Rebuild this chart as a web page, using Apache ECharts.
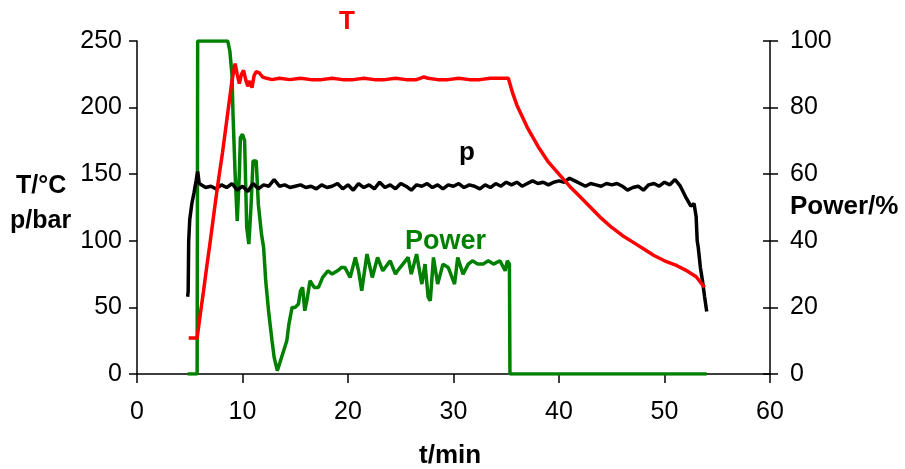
<!DOCTYPE html>
<html>
<head>
<meta charset="utf-8">
<script src="https://cdn.jsdelivr.net/npm/echarts@6/dist/echarts.min.js"></script>
<style>
html,body{margin:0;padding:0;background:#fff;}
#chart{width:905px;height:469px;}
</style>
</head>
<body>
<div id="chart"></div>
<script>
// x axis ticks
const xTicks = [0, 10, 20, 30, 40, 50, 60];
const leftTicks = [0, 50, 100, 150, 200, 250];
const rightTicks = [0, 20, 40, 60, 80, 100];

// T (°C) vs time (min)
const tTime = [4.9, 5.7, 6.0, 6.3, 6.6, 6.9, 7.2, 7.5, 7.8, 8.1, 8.4, 8.7, 9.0, 9.3, 9.5, 9.7, 9.9, 10.1, 10.3, 10.5, 10.7, 10.9, 11.1, 11.3, 11.6, 11.9, 12.3, 12.8, 13.5, 14.5, 15.5, 16.5, 17.5, 18.5, 19.5, 20.5, 21.5, 22.5, 23.5, 24.5, 25.5, 26.5, 27.2, 27.6, 28.5, 29.5, 30.5, 31.5, 32.5, 33.5, 34.5, 35.2, 35.6, 36.0, 37.0, 38.0, 39.0, 40.0, 41.0, 42.0, 43.0, 44.0, 45.0, 46.0, 47.0, 48.0, 49.0, 50.0, 51.0, 52.0, 53.0, 53.8];
const tVal  = [27, 27, 45, 62, 80, 97, 115, 133, 150, 166, 184, 202, 220, 233, 225, 218, 225, 228, 221, 216, 220, 215, 224, 227, 226, 223, 222, 221, 222, 221, 222, 221, 221, 222, 221, 221, 222, 221, 221, 222, 221, 221, 223, 222, 221, 221, 222, 221, 221, 222, 222, 222, 211, 202, 185, 171, 159, 150, 141, 133, 125, 117, 110, 104, 99, 94, 89, 85, 82, 78, 73, 65];

// p (bar) vs time (min)
const pTime = [4.8, 4.85, 4.9, 5.0, 5.2, 5.4, 5.6, 5.75, 5.9, 6.0, 6.5, 7.0, 7.5, 8.0, 8.5, 9.0, 9.5, 10.0, 10.5, 11.0, 11.5, 12.0, 12.5, 13.0, 13.5, 14.0, 14.5, 15.0, 15.5, 16.0, 16.5, 17.0, 17.5, 18.0, 18.5, 19.0, 19.5, 20.0, 20.5, 21.0, 21.5, 22.0, 22.5, 23.0, 23.5, 24.0, 24.5, 25.0, 25.5, 26.0, 26.5, 27.0, 27.5, 28.0, 28.5, 29.0, 29.5, 30.0, 30.5, 31.0, 31.5, 32.0, 32.5, 33.0, 33.5, 34.0, 34.5, 35.0, 35.5, 36.0, 36.5, 37.0, 37.5, 38.0, 38.5, 39.0, 39.5, 40.0, 40.5, 41.0, 41.5, 42.0, 42.5, 43.0, 43.5, 44.0, 44.5, 45.0, 45.5, 46.0, 46.5, 47.0, 47.5, 48.0, 48.5, 49.0, 49.5, 50.0, 50.5, 51.0, 51.5, 52.0, 52.5, 52.8, 53.0, 53.1, 53.2, 53.4, 53.6, 53.8, 54.0];
const pVal  = [58, 62, 100, 116, 128, 136, 145, 152, 143, 143, 140, 141, 139, 142, 140, 143, 138, 141, 137, 143, 139, 142, 141, 146, 141, 142, 140, 141, 142, 140, 141, 139, 142, 140, 141, 143, 139, 142, 138, 143, 140, 142, 139, 144, 140, 142, 139, 143, 141, 138, 142, 141, 143, 140, 142, 139, 142, 141, 143, 140, 142, 141, 139, 142, 140, 143, 141, 144, 142, 144, 141, 143, 145, 143, 144, 142, 144, 145, 144, 147, 145, 143, 141, 143, 142, 141, 143, 142, 143, 141, 138, 140, 141, 138, 142, 143, 141, 144, 142, 146, 141, 133, 126, 128, 118, 100, 95, 80, 70, 58, 47];

// Power (%) vs time (min)
const powTime = [4.8, 5.7, 5.75, 8.6, 8.8, 9.0, 9.1, 9.3, 9.5, 9.7, 9.8, 10.0, 10.2, 10.4, 10.6, 10.8, 11.0, 11.3, 11.5, 11.8, 12.0, 12.2, 12.5, 12.8, 13.0, 13.3, 13.6, 13.9, 14.2, 14.4, 14.7, 15.0, 15.3, 15.5, 15.7, 15.9, 16.1, 16.4, 16.8, 17.2, 17.6, 18.1, 18.5, 19.0, 19.4, 19.7, 20.2, 20.7, 21.0, 21.3, 21.8, 22.3, 22.8, 23.3, 24.0, 24.5, 24.7, 25.2, 25.7, 26.0, 26.5, 27.0, 27.3, 27.6, 27.8, 28.1, 28.5, 29.0, 29.5, 30.1, 30.4, 30.9, 31.4, 31.8, 32.3, 32.8, 33.3, 33.8, 34.4, 34.9, 35.1, 35.3, 35.35, 54.0];
const powVal  = [0, 0, 100, 100, 97, 90, 78, 60, 46, 60, 71, 72, 70, 44, 39, 50, 64, 64, 51, 42, 38, 28, 18, 10, 5, 1, 4, 7, 10, 15, 20, 20, 21, 25, 26, 19, 22, 28, 26, 26, 29, 31, 30, 31, 32, 32, 29, 35, 31, 25, 36, 29, 35, 31, 34, 30, 31, 33, 35, 30, 36, 27, 33, 23, 22, 35, 27, 33, 32, 27, 35, 30, 33, 34, 33, 33, 34, 33, 34, 31, 34, 33, 0, 0];

function pairs(xs, ys) { return xs.map((x, i) => [x, ys[i]]); }

const FONT = '"Liberation Sans", Arial, sans-serif';
const chart = echarts.init(document.getElementById('chart'), null, {renderer: 'canvas'});
chart.setOption({
  animation: false,
  backgroundColor: '#ffffff',
  grid: {left: 137, right: 135, top: 41, bottom: 95, containLabel: false},
  xAxis: {
    type: 'value', min: xTicks[0], max: xTicks[xTicks.length - 1], interval: 10,
    axisLine: {onZero: false, lineStyle: {color: '#000', width: 1.5}},
    axisTick: {show: true, length: 9, lineStyle: {color: '#000', width: 1.5}},
    axisLabel: {color: '#000', fontSize: 25, fontFamily: FONT, margin: 26},
    splitLine: {show: false}
  },
  yAxis: [
    {
      type: 'value', min: leftTicks[0], max: leftTicks[leftTicks.length - 1], interval: 50, position: 'left',
      axisLine: {show: true, lineStyle: {color: '#000', width: 1.5}},
      axisTick: {show: true, length: 8, lineStyle: {color: '#000', width: 1.5}},
      axisLabel: {color: '#000', fontSize: 25, fontFamily: FONT, margin: 15},
      splitLine: {show: false}
    },
    {
      type: 'value', min: rightTicks[0], max: rightTicks[rightTicks.length - 1], interval: 20, position: 'right',
      axisLine: {show: true, lineStyle: {color: '#000', width: 1.5}},
      axisTick: {show: true, length: 8, lineStyle: {color: '#000', width: 1.5}},
      axisLabel: {color: '#000', fontSize: 25, fontFamily: FONT, margin: 20},
      splitLine: {show: false}
    },
    {
      type: 'value', min: rightTicks[0], max: rightTicks[rightTicks.length - 1], interval: 20, position: 'right',
      axisLine: {show: false},
      axisTick: {show: true, inside: true, length: 7, lineStyle: {color: '#000', width: 1.5}},
      axisLabel: {show: false},
      splitLine: {show: false}
    }
  ],
  series: [
    {name: 'Power', type: 'line', yAxisIndex: 1, data: pairs(powTime, powVal), showSymbol: false,
     lineStyle: {color: '#008000', width: 3.5}, itemStyle: {color: '#008000'}, z: 2},
    {name: 'p', type: 'line', yAxisIndex: 0, data: pairs(pTime, pVal), showSymbol: false,
     lineStyle: {color: '#000000', width: 3.5}, itemStyle: {color: '#000'}, z: 3},
    {name: 'T', type: 'line', yAxisIndex: 0, data: pairs(tTime, tVal), showSymbol: false,
     lineStyle: {color: '#ff0000', width: 3.5}, itemStyle: {color: '#ff0000'}, z: 4}
  ],
  graphic: [
    {type: 'text', left: 16, top: 174, style: {text: 'T/°C', font: 'bold 25px ' + FONT, fill: '#000'}},
    {type: 'text', left: 10, top: 209, style: {text: 'p/bar', font: 'bold 25px ' + FONT, fill: '#000'}},
    {type: 'text', left: 790, top: 194, style: {text: 'Power/%', font: 'bold 26px ' + FONT, fill: '#000'}},
    {type: 'text', left: 419, top: 443, style: {text: 't/min', font: 'bold 26px ' + FONT, fill: '#000'}},
    {type: 'text', left: 339, top: 9, style: {text: 'T', font: 'bold 26px ' + FONT, fill: '#ff0000'}},
    {type: 'text', left: 459, top: 140, style: {text: 'p', font: 'bold 26px ' + FONT, fill: '#000'}},
    {type: 'text', left: 405, top: 228, style: {text: 'Power', font: 'bold 27px ' + FONT, fill: '#008000'}}
  ]
});
</script>
</body>
</html>
